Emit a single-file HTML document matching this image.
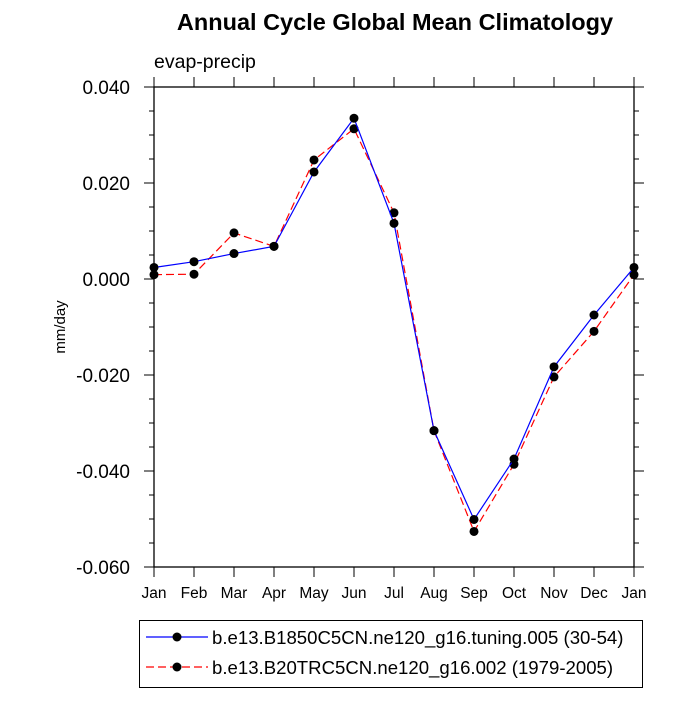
<!DOCTYPE html>
<html><head><meta charset="utf-8"><style>
body{margin:0;background:#fff;}
svg text{font-family:"Liberation Sans",sans-serif;fill:#000;}
</style></head><body>
<svg id="chart" width="700" height="700" xmlns="http://www.w3.org/2000/svg">
<text x="395" y="30" text-anchor="middle" font-size="23.5" font-weight="bold">Annual Cycle Global Mean Climatology</text>
<text x="154" y="68" font-size="19.5">evap-precip</text>
<text transform="translate(65,327) rotate(-90)" text-anchor="middle" font-size="15">mm/day</text>
<g id="axes"></g>
<g id="series"></g>
<g>
<rect x="139.5" y="620.5" width="503" height="67" fill="none" stroke="#000" stroke-width="1"/>
<g>
<line x1="146" y1="637" x2="208" y2="637" stroke="#0000ff" stroke-width="1.2"/>
<circle cx="177" cy="637" r="4.5" fill="#000"/>
<text x="212" y="644" font-size="18.6">b.e13.B1850C5CN.ne120_g16.tuning.005 (30-54)</text>
</g>
<g>
<line x1="146" y1="667" x2="208" y2="667" stroke="#ff0000" stroke-width="1.2" stroke-dasharray="8,4"/>
<circle cx="177" cy="667" r="4.5" fill="#000"/>
<text x="212" y="674" font-size="18.6">b.e13.B20TRC5CN.ne120_g16.002 (1979-2005)</text>
</g>
</g>
</svg>
<script>
const months=["Jan","Feb","Mar","Apr","May","Jun","Jul","Aug","Sep","Oct","Nov","Dec","Jan"];
const blueValues=[0.0024,0.0036,0.0053,0.0068,0.0223,0.0335,0.0116,-0.0316,-0.0501,-0.0375,-0.0183,-0.0075,0.0024];
const redValues=[0.0009,0.0010,0.0096,0.0068,0.0248,0.0313,0.0138,-0.0316,-0.0526,-0.0386,-0.0204,-0.0109,0.0009];
const yTicks=[0.04,0.02,0,-0.02,-0.04,-0.06];
const yTickLabels=["0.040","0.020","0.000","-0.020","-0.040","-0.060"];
const NS="http://www.w3.org/2000/svg";
const L=154,R=634,T=87,B=567,ymax=0.04,ymin=-0.06;
function x(i){return L+(R-L)*i/(months.length-1);}
function y(v){return T+(ymax-v)/(ymax-ymin)*(B-T);}
function mk(tag,attrs,parent){const e=document.createElementNS(NS,tag);for(const k in attrs)e.setAttribute(k,attrs[k]);parent.appendChild(e);return e;}
const ax=document.getElementById('axes');
const fr=mk('rect',{x:L,y:T,width:R-L,height:B-T,fill:'none',stroke:'#000','stroke-width':1.3},ax);


months.forEach((m,i)=>{
  const X=x(i);
  mk('line',{x1:X,y1:B,x2:X,y2:B+10,stroke:'#000'},ax);
  mk('line',{x1:X,y1:T,x2:X,y2:T-10,stroke:'#000'},ax);
  const t=mk('text',{x:X,y:B+31,'text-anchor':'middle','font-size':15.5},ax);
  t.textContent=m;
  
  
});
for(let v=ymin;v<=ymax+1e-9;v+=0.005){
  const Y=y(v);
  mk('line',{x1:L,y1:Y,x2:L-5,y2:Y,stroke:'#000'},ax);
  mk('line',{x1:R,y1:Y,x2:R+5,y2:Y,stroke:'#000'},ax);
}
yTicks.forEach((v,i)=>{
  const Y=y(v);
  mk('line',{x1:L,y1:Y,x2:L-10,y2:Y,stroke:'#000'},ax);
  mk('line',{x1:R,y1:Y,x2:R+10,y2:Y,stroke:'#000'},ax);
  const t=mk('text',{x:L-24,y:Y+7,'text-anchor':'end','font-size':19},ax);
  t.textContent=yTickLabels[i];
  
  
});
const sg=document.getElementById('series');
function series(vals,color,dash,name){
  const g=mk('g',{},sg);
  
  
  const p=mk('polyline',{points:vals.map((v,i)=>x(i)+','+y(v)).join(' '),fill:'none',stroke:color,'stroke-width':1.2,'stroke-dasharray':dash},g);
  
  
  vals.forEach((v,i)=>{
    const c=mk('circle',{cx:x(i),cy:y(v),r:4.5,fill:'#000'},g);
    
    
  });
}
series(redValues,'#ff0000','8,4','series-b20trc');
series(blueValues,'#0000ff','none','series-b1850');
</script>
</body></html>
